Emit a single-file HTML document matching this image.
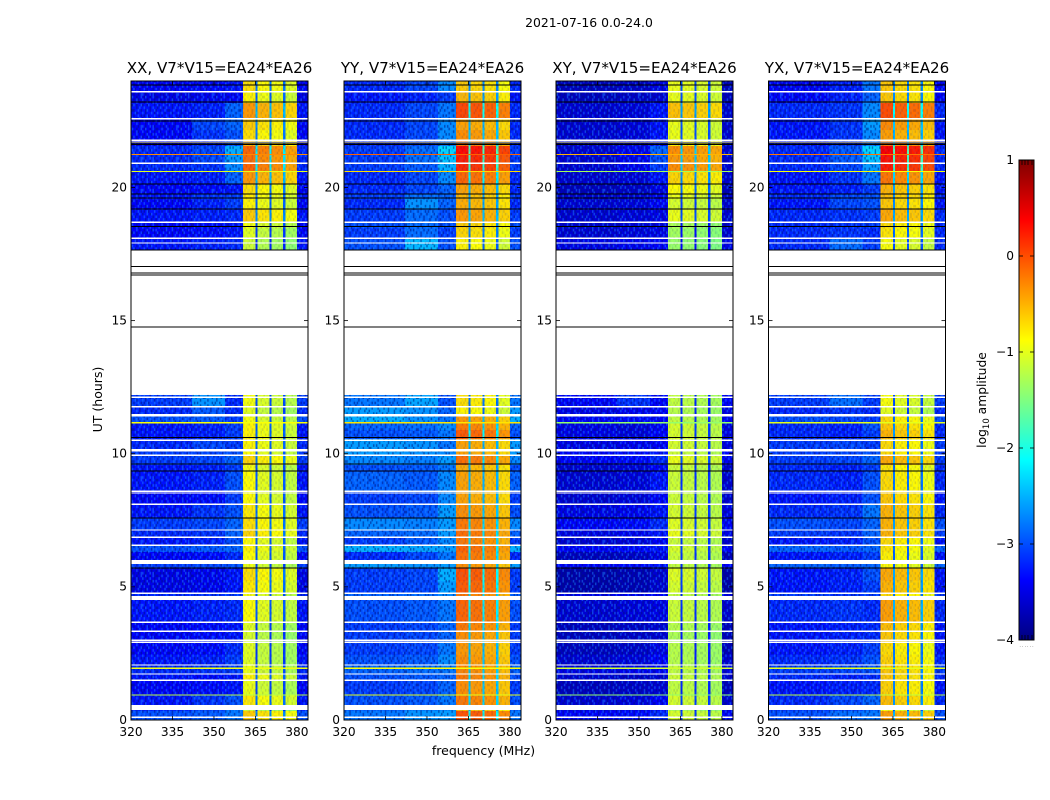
<!DOCTYPE html>
<html>
<head>
<meta charset="utf-8">
<title>2021-07-16 amplitude waterfall</title>
<style>
html,body{margin:0;padding:0;background:#fff;width:1050px;height:800px;overflow:hidden}
svg{display:block}
text{font-family:"DejaVu Sans","Liberation Sans",sans-serif;fill:#000}
</style>
</head>
<body>
<svg id="chart" xmlns="http://www.w3.org/2000/svg" width="1050" height="800" viewBox="0 0 1050 800"></svg>
<script>
// ---- chart data (estimated by eye from the reference) ----
const panelTitles = ['XX, V7*V15=EA24*EA26','YY, V7*V15=EA24*EA26','XY, V7*V15=EA24*EA26','YX, V7*V15=EA24*EA26'];
const freqTicks = [320,335,350,365,380];
const utTicks = [0,5,10,15,20];
const colorbarTicks = [-4,-3,-2,-1,0,1];

// UT edges of the time bands, top to bottom
const upperEdgesUT = [24,23.59,23.17,22.57,22.16,21.78,21.56,21.22,20.88,20.58,20.13,19.76,19.57,19.19,18.70,18.48,18.10,17.65];
const lowerEdgesUT = [12.21,11.79,11.46,11.15,10.89,10.55,10.14,9.92,9.58,9.31,8.60,8.11,7.59,7.14,6.84,6.54,6.31,6.01,5.71,5.22,4.77,4.51,3.68,3.34,2.89,2.44,2.07,1.73,1.46,0.94,0.56,0.34,0];

// frequency zones of each row value: [low, mid-a, mid-b, signal]
const lowZoneMHz = [320,342];
const midAZoneMHz = [342,354];
const midBZoneMHz = [354,360.5];
const highZoneMHz = [380,384];
const signalBlocksMHz = [[360.5,365],[365.8,370],[370.8,375],[375.8,380]];
const notchesMHz = [[365,365.8],[370,370.8],[375,375.8]];
const notchDrop = 2.0;
// overall off-signal level correction per zone, from comparing with the reference
const zoneShift = [-.2,-.25,-.3];

// log10 amplitude per band: [low, mid-a, mid-b, signal]
const rowsXX = [
[-3.2,-3.1,-3.0,-.8],[-3.3,-3.2,-3.1,-.9],[-3.1,-3.0,-2.6,-.45],[-3.2,-2.8,-2.6,-.7],[-3.2,-2.9,-2.7,-.8],[-3.2,-3.0,-2.7,-.6],
[-3.0,-2.8,-2.2,-.2],[-3.0,-2.8,-2.3,-.25],[-3.0,-2.9,-2.4,-.2],[-3.1,-3.0,-2.6,-.45],[-3.2,-3.1,-3.0,-.8],[-3.1,-2.9,-2.8,-.85],
[-3.2,-3.0,-2.8,-.9],[-3.1,-3.0,-2.9,-.7],[-3.2,-3.1,-3.0,-1.0],[-3.2,-3.1,-3.0,-1.1],[-3.1,-3.0,-2.9,-1.2],
[-2.9,-2.4,-2.9,-1.0],[-3.0,-2.7,-2.9,-1.1],[-2.8,-2.7,-2.8,-1.0],[-3.1,-3.0,-2.8,-.9],[-3.1,-3.0,-2.8,-.9],[-3.0,-2.8,-2.8,-.9],
[-2.9,-2.8,-2.7,-.95],[-2.9,-2.8,-2.6,-.75],[-3.1,-3.0,-2.8,-1.0],[-3.1,-3.0,-2.7,-.95],[-3.2,-3.1,-2.8,-.95],[-3.1,-2.9,-2.7,-.85],
[-2.9,-2.8,-2.6,-.8],[-3.0,-2.9,-2.6,-.75],[-3.1,-3.0,-2.7,-.95],[-2.8,-2.7,-2.6,-.9],[-3.2,-3.1,-2.9,-.95],[-2.9,-2.8,-2.7,-1.05],
[-3.3,-3.2,-3.0,-.8],[-3.3,-3.2,-3.0,-.85],[-3.0,-2.9,-2.8,-1],[-3.1,-3.0,-2.9,-.95],[-3.2,-3.1,-3.0,-1.1],[-3.2,-3.1,-3.0,-1.15],
[-3.2,-3.1,-2.9,-1.1],[-3.1,-3.0,-2.8,-1.1],[-3.0,-2.9,-2.8,-1.05],[-3.1,-3.1,-3.0,-.9],[-3.2,-3.1,-3.0,-1.05],[-3.1,-2.9,-2.7,-.85],
[-3.0,-2.8,-2.5,-1.2],[-2.8,-2.7,-2.5,-.7]];
const rowsYY = [
[-3.0,-2.8,-2.4,-.7],[-3.1,-3.0,-2.8,-.6],[-3.0,-2.8,-2.5,-.05],[-3.0,-2.8,-2.4,-.5],[-3.0,-2.8,-2.4,-.4],[-3.0,-2.8,-2.5,-.3],
[-2.9,-2.6,-2.0,.25],[-2.9,-2.6,-2.1,.15],[-2.9,-2.7,-2.2,.1],[-3.0,-2.8,-2.4,-.2],[-3.0,-2.8,-2.6,-.5],[-2.9,-2.6,-2.6,-.6],
[-3.0,-2.4,-2.6,-.55],[-2.9,-2.6,-2.7,-.45],[-2.8,-2.6,-2.7,-.7],[-2.9,-2.6,-2.8,-.75],[-2.8,-2.2,-2.7,-.9],
[-2.6,-2.3,-2.7,-.8],[-2.4,-2.4,-2.6,-.9],[-2.3,-2.4,-2.5,-.45],[-2.7,-2.6,-2.4,-.3],[-2.8,-2.7,-2.5,-.15],[-2.4,-2.4,-2.5,-.5],
[-2.4,-2.4,-2.4,-.5],[-2.5,-2.5,-2.3,-.25],[-2.8,-2.7,-2.5,-.55],[-2.7,-2.7,-2.4,-.5],[-2.9,-2.8,-2.4,-.5],[-2.8,-2.7,-2.3,-.4],
[-2.5,-2.5,-2.3,-.3],[-2.7,-2.6,-2.3,-.25],[-2.9,-2.7,-2.4,-.3],[-2.3,-2.3,-2.3,-.2],[-3.0,-2.8,-2.5,-.25],[-2.4,-2.4,-2.3,-.4],
[-2.9,-2.8,-2.2,-.1],[-2.9,-2.8,-2.3,-.15],[-2.7,-2.6,-2.4,-.3],[-2.8,-2.7,-2.5,-.2],[-2.9,-2.8,-2.6,-.3],[-2.9,-2.8,-2.6,-.4],
[-2.9,-2.8,-2.5,-.45],[-2.8,-2.7,-2.4,-.4],[-2.7,-2.6,-2.5,-.35],[-2.8,-2.7,-2.6,-.3],[-2.9,-2.8,-2.6,-.4],[-2.8,-2.7,-2.5,-.3],
[-2.7,-2.5,-2.4,-.6],[-2.6,-2.4,-2.3,-.1]];
const rowsXY = [
[-3.5,-3.4,-3.2,-1.0],[-3.5,-3.4,-3.3,-1.0],[-3.4,-3.3,-3.0,-.6],[-3.4,-3.3,-3.0,-1.0],[-3.4,-3.3,-3.0,-1.0],[-3.4,-3.3,-3.0,-.85],
[-3.4,-3.2,-2.6,-.35],[-3.4,-3.2,-2.7,-.4],[-3.4,-3.2,-2.8,-.35],[-3.4,-3.3,-3.0,-.7],[-3.5,-3.4,-3.2,-.9],[-3.4,-3.3,-3.1,-1.0],
[-3.4,-3.3,-3.1,-1.1],[-3.4,-3.3,-3.2,-1.0],[-3.4,-3.3,-3.2,-1.3],[-3.4,-3.3,-3.2,-1.35],[-3.3,-3.2,-3.1,-1.4],
[-3.2,-2.9,-3.1,-1.2],[-3.3,-3.2,-3.1,-1.25],[-3.2,-3.1,-3.1,-1.2],[-3.3,-3.3,-3.1,-1.1],[-3.3,-3.3,-3.1,-1.1],[-3.3,-3.2,-3.1,-1.1],
[-3.2,-3.1,-3.0,-1.15],[-3.2,-3.1,-2.9,-1.0],[-3.4,-3.3,-3.1,-1.15],[-3.4,-3.3,-3.0,-1.15],[-3.4,-3.3,-3.1,-1.15],[-3.3,-3.2,-3.0,-1.1],
[-3.2,-3.1,-2.9,-1.05],[-3.3,-3.2,-3.0,-1.0],[-3.4,-3.3,-3.1,-1.15],[-3.2,-3.1,-3.0,-1.1],[-3.5,-3.4,-3.2,-1.15],[-3.2,-3.1,-3.0,-1.2],
[-3.6,-3.5,-3.3,-1.05],[-3.6,-3.5,-3.3,-1.1],[-3.3,-3.2,-3.1,-1.2],[-3.4,-3.3,-3.2,-1.15],[-3.5,-3.4,-3.3,-1.25],[-3.5,-3.4,-3.3,-1.3],
[-3.5,-3.4,-3.2,-1.25],[-3.4,-3.3,-3.1,-1.25],[-3.3,-3.2,-3.1,-1.2],[-3.4,-3.4,-3.3,-1.15],[-3.5,-3.4,-3.3,-1.2],[-3.4,-3.3,-3.1,-1.1],
[-3.3,-3.2,-3.0,-1.3],[-3.2,-3.1,-2.9,-1.1]];
const rowsYX = [
[-3.2,-3.0,-2.5,-.7],[-3.2,-3.0,-2.6,-.7],[-3.0,-2.9,-2.4,-.1],[-3.1,-2.9,-2.3,-.4],[-3.1,-2.9,-2.4,-.5],[-3.1,-2.9,-2.5,-.3],
[-3.0,-2.7,-2.0,.3],[-3.0,-2.7,-2.1,.2],[-3.0,-2.8,-2.3,.15],[-3.1,-2.9,-2.5,-.3],[-3.1,-3.0,-2.8,-.6],[-3.0,-2.8,-2.7,-.65],
[-3.1,-2.8,-2.7,-.7],[-3.0,-2.9,-2.8,-.55],[-3.0,-2.9,-2.8,-.8],[-3.0,-2.9,-2.9,-.85],[-3.0,-2.6,-2.8,-1.0],
[-2.9,-2.6,-2.8,-1.0],[-3.0,-2.9,-2.9,-1.1],[-2.8,-2.8,-2.8,-.8],[-3.0,-3.0,-2.7,-.7],[-3.0,-3.0,-2.8,-.6],[-2.9,-2.8,-2.8,-.8],
[-2.9,-2.8,-2.7,-.8],[-2.9,-2.8,-2.6,-.55],[-3.0,-3.0,-2.8,-.85],[-3.0,-3.0,-2.7,-.8],[-3.1,-3.0,-2.7,-.7],[-3.0,-2.9,-2.5,-.6],
[-2.8,-2.8,-2.6,-.6],[-2.9,-2.9,-2.6,-.6],[-3.1,-3.0,-2.7,-.8],[-2.7,-2.7,-2.6,-.85],[-3.1,-3.0,-2.8,-.9],[-2.7,-2.7,-2.6,-.95],
[-3.1,-3.0,-2.7,-.55],[-3.1,-3.0,-2.8,-.6],[-2.9,-2.9,-2.8,-.8],[-3.0,-2.9,-2.9,-.5],[-3.1,-3.0,-2.9,-.65],[-3.1,-3.0,-2.9,-.7],
[-3.1,-3.0,-2.8,-.8],[-3.0,-2.9,-2.7,-.75],[-2.9,-2.8,-2.7,-.7],[-3.0,-3.0,-2.9,-.7],[-3.1,-3.0,-2.9,-.75],[-3.0,-2.8,-2.6,-.65],
[-2.9,-2.8,-2.6,-1.0],[-2.8,-2.6,-2.5,-.5]];

// per-block amplitude offsets for each panel
const blockOffsetsXX = [.08,-.05,-.12,-.22];
const blockOffsetsYY = [.08,.02,-.05,-.2];
const blockOffsetsXY = [.03,.0,-.05,-.1];
const blockOffsetsYX = [.1,.0,-.05,-.15];

// bright single-integration interference lines
const rfiLinesUT = [21.24,20.6,11.17,1.94,0.94];
const rfiXX = [-.3,-1.0,-.9,-.95,-1.2];
const rfiYY = [-.1,-.7,-.75,-.9,-1.0];
const rfiXY = [-.5,-1.3,-1.4,-1.1,-1.4];
const rfiYX = [-.2,-.9,-1.0,-1.0,-1.2];

// flagged (blank) samples: [UT, duration in hours]
const blankFlags = [[23.62,.05],[22.61,.05],[21.80,.05],[21.73,.05],[20.93,.04],[18.72,.05],[18.12,.05],[17.94,.05],
[12.15,.05],[11.79,.05],[11.50,.05],[11.45,.05],[10.54,.06],[10.17,.08],[9.97,.05],[8.62,.05],[8.55,.05],[8.13,.05],
[7.16,.05],[6.89,.05],[6.59,.05],[6.01,.15],[4.79,.05],[4.66,.15],[3.70,.06],[3.36,.06],[3.02,.05],[2.95,.05],[2.09,.05],
[1.75,.05],[1.52,.06],[0.56,.19],[0.13,.05]];
// black dropout lines, UT
const dropoutLinesUT = [23.85,23.21,22.5,21.67,21.62,20.13,19.76,19.61,19.19,18.53,17.65,17.03,16.79,16.71,14.76,10.61,9.61,9.35,7.59,5.71];

// hand-typed pixel grain for the noisy off-signal region (decorative texture)
const grainRows = [
'.dl..d.l.dd..l.d.l..d..l',
'l..d.l..d..ld...l.d.ld..',
'.d.l..dl.l...d.dl...l.d.',
'd..dl...d.ld..l..dl.d..l',
'.l...d.l..d.l.d.l...d.l.',
'..dl.d..ld..d..l.dd..l.d',
'l.d...l.d.l..l.d...ld...',
'.d.ld...l..d.d..l.d..l.d',
'd..l.dl..d...l.d.l..d.l.',
'.l.d...d.l.dl..d..ld..d.',
'..d.l.d..d.l..l.d...l.d.',
'l.d..l.ld...d.d.l.d..d.l'];

// ---- scales and layout ----
const panelLefts = [131,344,556,768.5];
const panelWidth = 177;
const plotTop = 81, plotBottom = 720;
const freqMin = 320, freqMax = 384, utMin = 0, utMax = 24;
const cbLeft = 1019, cbWidth = 15, cbTop = 160, cbBottom = 640, cbMin = -4, cbMax = 1;

function xScale(mhz, left){ return left + (mhz - freqMin) / (freqMax - freqMin) * panelWidth; }
function yScale(ut){ return plotBottom - (ut - utMin) / (utMax - utMin) * (plotBottom - plotTop); }
function cbScale(v){ return cbBottom - (v - cbMin) / (cbMax - cbMin) * (cbBottom - cbTop); }

function jetColor(v){
  const t = Math.max(0, Math.min(1, (v - cbMin) / (cbMax - cbMin)));
  const ch = x => Math.round(255 * Math.max(0, Math.min(1, 1.5 - Math.abs(4 * t - x))));
  return 'rgb(' + ch(3) + ',' + ch(2) + ',' + ch(1) + ')';
}

const svgNS = 'http://www.w3.org/2000/svg';
const chart = document.getElementById('chart');
function make(parent, tag, geom){
  const el = document.createElementNS(svgNS, tag);
  for (const k in geom) el.setAttribute(k, geom[k]);
  parent.appendChild(el);
  return el;
}
function label(parent, str, x, y, size, anchor, name){
  const t = make(parent, 'text', {x:x, y:y, 'font-size':size, 'text-anchor':anchor});
  t.textContent = str;
  
  
  return t;
}
function cell(parent, mhz0, mhz1, ut0, ut1, left, v){
  const r = make(parent, 'rect', {
    x: xScale(mhz0, left), y: yScale(ut0),
    width: xScale(mhz1, left) - xScale(mhz0, left),
    height: yScale(ut1) - yScale(ut0),
    fill: jetColor(v), 'shape-rendering': 'crispEdges'
  });
  
  
  return r;
}

// grain pattern
const defs = make(chart, 'defs', {});
const grainCellW = 1.48, grainCellH = 2.66;
const pattern = make(defs, 'pattern', {id:'grain', patternUnits:'userSpaceOnUse', width:grainRows[0].length * grainCellW, height:grainRows.length * grainCellH});
grainRows.forEach((row, j) => {
  row.split('').forEach((ch, i) => {
    if (ch === '.') return;
    make(pattern, 'rect', {x:i * grainCellW, y:j * grainCellH, width:grainCellW, height:grainCellH,
      fill: ch === 'd' ? '#00107a' : '#1e8fff', opacity: ch === 'd' ? .5 : .45});
  });
});

// figure text
label(chart, '2021-07-16 0.0-24.0', 589, 27, 12.4, 'middle', 'figure-title');
label(chart, 'frequency (MHz)', 483.5, 755, 12.5, 'middle', 'x-axis-title');
const yTitle = label(chart, 'UT (hours)', 0, 0, 12.5, 'middle', 'y-axis-title');
yTitle.setAttribute('transform', 'translate(102,399.5) rotate(-90)');

const panelRows = [rowsXX, rowsYY, rowsXY, rowsYX];
const panelOffsets = [blockOffsetsXX, blockOffsetsYY, blockOffsetsXY, blockOffsetsYX];
const panelRfi = [rfiXX, rfiYY, rfiXY, rfiYX];
const panelKeys = ['xx','yy','xy','yx'];

panelLefts.forEach((left, p) => {
  const g = make(chart, 'g', {});
  
  

  const rows = panelRows[p];
  const offs = panelOffsets[p];
  const drawBand = (v, ut0, ut1) => {
    cell(g, lowZoneMHz[0], lowZoneMHz[1], ut0, ut1, left, v[0] + zoneShift[0]);
    cell(g, midAZoneMHz[0], midAZoneMHz[1], ut0, ut1, left, v[1] + zoneShift[1]);
    cell(g, midBZoneMHz[0], midBZoneMHz[1], ut0, ut1, left, v[2] + zoneShift[2]);
    signalBlocksMHz.forEach((b, k) => cell(g, b[0], b[1], ut0, ut1, left, v[3] + offs[k]));
    notchesMHz.forEach(n => cell(g, n[0], n[1], ut0, ut1, left, v[3] - notchDrop));
    cell(g, highZoneMHz[0], highZoneMHz[1], ut0, ut1, left, v[0] + zoneShift[0]);
  };
  let r = 0;
  [upperEdgesUT, lowerEdgesUT].forEach(edges => {
    for (let i = 0; i < edges.length - 1; i++, r++) drawBand(rows[r], edges[i], edges[i + 1]);
    const top = yScale(edges[0]);
    const h = yScale(edges[edges.length - 1]) - top;
    // grain over off-signal areas
    const grainA = make(g, 'rect', {x:xScale(freqMin, left), y:top,
      width:xScale(midBZoneMHz[1], left) - xScale(freqMin, left), height:h, fill:'url(#grain)'});
    
    
    const grainB = make(g, 'rect', {x:xScale(highZoneMHz[0], left), y:top,
      width:xScale(highZoneMHz[1], left) - xScale(highZoneMHz[0], left), height:h, fill:'url(#grain)'});
    
    
    // fainter grain over the signal blocks
    const grainC = make(g, 'rect', {x:xScale(midBZoneMHz[1], left), y:top,
      width:xScale(highZoneMHz[0], left) - xScale(midBZoneMHz[1], left), height:h, fill:'url(#grain)', opacity:.28});
    
    
  });

  // interference lines
  rfiLinesUT.forEach((ut, i) => {
    const l = cell(g, freqMin, freqMax, ut + .025, ut - .025, left, panelRfi[p][i]);
    
  });
  // blank flags
  blankFlags.forEach(f => {
    const w = make(g, 'rect', {x:xScale(freqMin, left), y:yScale(f[0]), width:panelWidth,
      height:yScale(f[0] - f[1]) - yScale(f[0]), fill:'#fff', 'shape-rendering':'crispEdges'});
    
    
  });
  // dropout lines
  dropoutLinesUT.forEach(ut => {
    const b = make(g, 'line', {x1:xScale(freqMin, left), x2:xScale(freqMax, left), y1:yScale(ut), y2:yScale(ut), stroke:'#000', 'stroke-width':1, 'shape-rendering':'crispEdges'});
    
    
  });

  // frame
  const frame = make(g, 'rect', {x:left, y:plotTop, width:panelWidth, height:plotBottom - plotTop, fill:'none', stroke:'#000', 'stroke-width':1});
  
  

  // x ticks
  freqTicks.forEach(f => {
    const x = xScale(f, left);
    const t1 = make(g, 'line', {x1:x, x2:x, y1:plotBottom, y2:plotBottom - 4, stroke:'#000', 'stroke-width':.8});
    
    
    const t2 = make(g, 'line', {x1:x, x2:x, y1:plotTop, y2:plotTop + 4, stroke:'#000', 'stroke-width':.8});
    
    
    label(g, String(f), x, 736, 12.2, 'middle', 'x-tick-label');
  });
  // y ticks
  utTicks.forEach(u => {
    const y = yScale(u);
    const t1 = make(g, 'line', {x1:left, x2:left + 4, y1:y, y2:y, stroke:'#000', 'stroke-width':.8});
    
    
    const t2 = make(g, 'line', {x1:left + panelWidth - 4, x2:left + panelWidth, y1:y, y2:y, stroke:'#000', 'stroke-width':.8});
    
    
    label(g, String(u), left - 4, y + 3.8, 12.2, 'end', 'y-tick-label');
  });
  label(g, panelTitles[p], left + panelWidth / 2, 73, 15.1, 'middle', 'panel-title');
});

// colorbar
const cbGroup = make(chart, 'g', {});


const grad = make(defs, 'linearGradient', {id:'jetGrad', x1:0, y1:1, x2:0, y2:0});
for (let i = 0; i <= 32; i++) {
  const v = cbMin + (cbMax - cbMin) * i / 32;
  make(grad, 'stop', {offset:(i / 32), 'stop-color':jetColor(v)});
}
const cbRect = make(cbGroup, 'rect', {x:cbLeft, y:cbTop, width:cbWidth, height:cbBottom - cbTop, fill:'url(#jetGrad)', stroke:'#000', 'stroke-width':1});


colorbarTicks.forEach(v => {
  const y = cbScale(v);
  const a = make(cbGroup, 'line', {x1:cbLeft, x2:cbLeft + 4, y1:y, y2:y, stroke:'#000', 'stroke-width':.8});
  
  
  const b = make(cbGroup, 'line', {x1:cbLeft + cbWidth - 4, x2:cbLeft + cbWidth, y1:y, y2:y, stroke:'#000', 'stroke-width':.8});
  
  
  label(cbGroup, (v < 0 ? '\u2212' + (-v) : String(v)), 1014, y + 3.8, 12.2, 'end', 'colorbar-tick-label');
});
[1022,1025,1028,1032].forEach(x => {
  const a = make(cbGroup, 'line', {x1:x, x2:x, y1:cbTop, y2:cbTop + 5, stroke:'#000', 'stroke-width':.8});
  
  
  const b = make(cbGroup, 'line', {x1:x, x2:x, y1:cbBottom - 5, y2:cbBottom, stroke:'#000', 'stroke-width':.8});
  
  
});
const dots = label(cbGroup, '. . . . . .', 1026.5, 647, 4, 'middle', 'colorbar-tiny-labels');
dots.setAttribute('fill', '#666');
const cbTitle = make(cbGroup, 'text', {'font-size':12.3, 'text-anchor':'middle', transform:'translate(986,400) rotate(-90)'});


const s1 = make(cbTitle, 'tspan', {});
s1.textContent = 'log';
const s2 = make(cbTitle, 'tspan', {'font-size':8.5, dy:3});
s2.textContent = '10';
const s3 = make(cbTitle, 'tspan', {dy:-3});
s3.textContent = ' amplitude';
</script>
</body>
</html>
